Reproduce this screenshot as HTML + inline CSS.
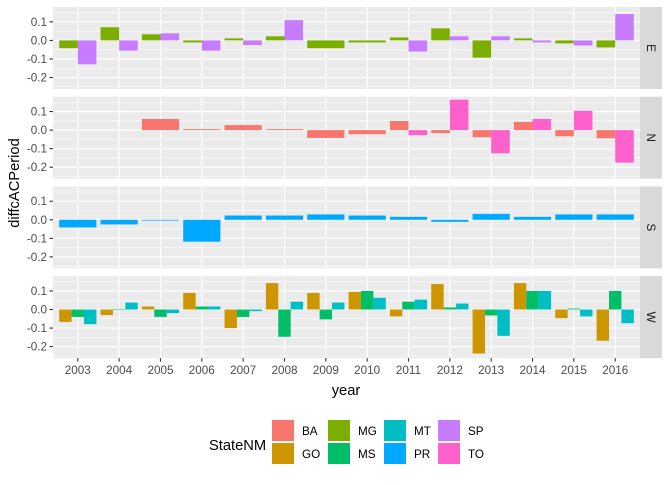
<!DOCTYPE html>
<html><head><meta charset="utf-8"><style>
body{margin:0;background:#fff;}
svg{font-family:"Liberation Sans",sans-serif;}
</style></head><body>
<svg id="c" width="672" height="480" xmlns="http://www.w3.org/2000/svg"></svg>
<script>
const years=[2003,2004,2005,2006,2007,2008,2009,2010,2011,2012,2013,2014,2015,2016];
const facets=["E","N","S","W"];
const stateNames=["BA","GO","MG","MS","MT","PR","SP","TO"];
const colors={BA:"#F8766D",GO:"#CD9600",MG:"#7CAE00",MS:"#00BE67",MT:"#00BFC4",PR:"#00A9FF",SP:"#C77CFF",TO:"#FF61CC"};
const yTicks=[0.1,0,-0.1,-0.2];
const yTickLabels=["0.1","0.0","-0.1","-0.2"];
const E_MG=[-0.042,0.071,0.033,-0.011,0.011,0.022,-0.042,-0.011,0.016,0.065,-0.093,0.011,-0.016,-0.038];
const E_SP=[-0.129,-0.055,0.038,-0.055,-0.025,0.109,null,null,-0.06,0.022,0.022,-0.011,-0.027,0.142];
const N_BA=[null,null,0.06,0.005,0.027,0.005,-0.042,-0.022,0.049,-0.016,-0.038,0.044,-0.033,-0.044];
const N_TO=[null,null,null,null,null,null,null,null,-0.027,0.164,-0.125,0.06,0.104,-0.175];
const S_PR=[-0.041,-0.025,-0.004,-0.118,0.023,0.023,0.029,0.023,0.016,-0.011,0.032,0.016,0.029,0.029];
const W_GO=[-0.067,-0.03,0.016,0.089,-0.1,0.142,0.089,0.095,-0.037,0.137,-0.237,0.142,-0.047,-0.168];
const W_MS=[-0.04,0,-0.04,0.016,-0.04,-0.147,-0.053,0.1,0.042,0.011,-0.032,0.1,0.005,0.1];
const W_MT=[-0.079,0.037,-0.019,0.016,-0.009,0.042,0.037,0.063,0.053,0.032,-0.142,0.1,-0.037,-0.074];
const panelSeries={E:[["MG",E_MG],["SP",E_SP]],N:[["BA",N_BA],["TO",N_TO]],S:[["PR",S_PR]],W:[["GO",W_GO],["MS",W_MS],["MT",W_MT]]};

const NS="http://www.w3.org/2000/svg";
const svg=document.getElementById('c');
function mk(t,a,p){const e=document.createElementNS(NS,t);for(const k in a)e.setAttribute(k,a[k]);(p||svg).appendChild(e);return e;}
const PL=53,PR=640,PH=82,tops=[7,96.7,186.4,276.1];
const yMax=0.18,yMin=-0.262;
const step=(PR-PL)/(years.length-1+1.2);
function xS(i){return PL+step*(0.6+i);}
function yS(v,top){return top+(yMax-v)/(yMax-yMin)*PH;}

facets.forEach((f,fi)=>{
  const top=tops[fi];
  const g=mk('g',{});
  
  
  mk('rect',{x:PL,y:top,width:PR-PL,height:PH,fill:'#EBEBEB'},g);
  [0.15,0.05,-0.05,-0.15,-0.25].forEach(v=>mk('line',{x1:PL,x2:PR,y1:yS(v,top),y2:yS(v,top),stroke:'#fff','stroke-width':0.55},g));
  yTicks.forEach((v,k)=>{
    const y=yS(v,top);
    mk('line',{x1:PL,x2:PR,y1:y,y2:y,stroke:'#fff','stroke-width':1.1},g);
    mk('line',{x1:49.5,x2:PL,y1:y,y2:y,stroke:'#333','stroke-width':1.1},g);
    const t=mk('text',{x:47,y:y+4,'text-anchor':'end','font-size':'11.7',fill:'#4D4D4D'},g);
    t.textContent=yTickLabels[k];
    
    
  });
  years.forEach((yr,i)=>mk('line',{x1:xS(i),x2:xS(i),y1:top,y2:top+PH,stroke:'#fff','stroke-width':1.1},g));
  const ser=panelSeries[f];
  years.forEach((yr,i)=>{
    const present=ser.filter(s=>s[1][i]!==null);
    const n=present.length; if(!n)return;
    const w=0.9*step/n;
    present.forEach((s,k)=>{
      const v=s[1][i];
      const x=xS(i)-0.45*step+k*w;
      const y0=yS(0,top),y1=yS(v,top);
      const r=mk('rect',{x:x,y:Math.min(y0,y1),width:w,height:Math.max(Math.abs(y1-y0),0.5),fill:colors[s[0]]},g);
      
      
    });
  });
  const st=mk('rect',{x:PR,y:top,width:22,height:PH,fill:'#D9D9D9'},g);
  
  
  const tt=mk('text',{x:0,y:0,'text-anchor':'middle','font-size':'11.7',fill:'#1A1A1A',transform:`translate(${PR+7},${top+PH/2}) rotate(90)`},g);
  tt.textContent=f;
  
  
});
const bot=tops[3]+PH;
years.forEach((yr,i)=>{
  mk('line',{x1:xS(i),x2:xS(i),y1:bot,y2:bot+3.5,stroke:'#333','stroke-width':1.1});
  const t=mk('text',{x:xS(i),y:bot+16,'text-anchor':'middle','font-size':'11.7',fill:'#4D4D4D'});
  t.textContent=yr;
  
  
});
const xt=mk('text',{x:346,y:395,'text-anchor':'middle','font-size':'14.7',fill:'#000'});
xt.textContent='year';


const yt=mk('text',{x:0,y:0,'text-anchor':'middle','font-size':'14.7',fill:'#000',transform:'translate(19,183) rotate(-90)'});
yt.textContent='diffcACPeriod';


const lt=mk('text',{x:209,y:450,'font-size':'14.7',fill:'#000'});
lt.textContent='StateNM';


const colX=[272,328,384,438];
stateNames.forEach((s,k)=>{
  const cx=colX[Math.floor(k/2)],cy=k%2?443:420;
  const g=mk('g',{});
  
  
  mk('rect',{x:cx,y:cy,width:22,height:21,fill:colors[s]},g);
  const t=mk('text',{x:cx+30,y:cy+15,'font-size':'11.7',fill:'#000'},g);
  t.textContent=s;
});
</script>
</body></html>
